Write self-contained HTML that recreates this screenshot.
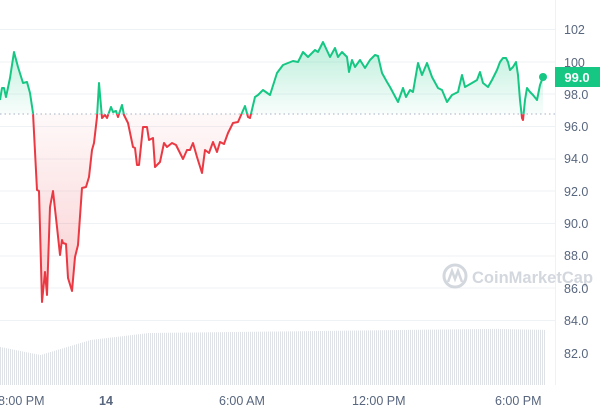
<!DOCTYPE html>
<html><head><meta charset="utf-8"><style>
body{margin:0;background:#fff;}
svg{display:block;font-family:"Liberation Sans",sans-serif;}
</style></head><body>
<svg width="600" height="413" viewBox="0 0 600 413">
<defs>
<linearGradient id="gG" gradientUnits="userSpaceOnUse" x1="0" y1="40" x2="0" y2="114"><stop offset="0" stop-color="#16c784" stop-opacity="0.3"/><stop offset="1" stop-color="#16c784" stop-opacity="0.03"/></linearGradient>
<linearGradient id="gR" gradientUnits="userSpaceOnUse" x1="0" y1="114" x2="0" y2="300"><stop offset="0" stop-color="#ea3943" stop-opacity="0.03"/><stop offset="1" stop-color="#ea3943" stop-opacity="0.25"/></linearGradient>
<clipPath id="above"><rect x="0" y="0" width="555" height="114"/></clipPath>
<clipPath id="below"><rect x="0" y="114" width="555" height="300"/></clipPath>
</defs>
<g stroke="#eff2f5" stroke-width="1">
<line x1="0" x2="555" y1="29.5" y2="29.5"/><line x1="0" x2="555" y1="62" y2="62"/><line x1="0" x2="555" y1="94" y2="94"/><line x1="0" x2="555" y1="126.5" y2="126.5"/><line x1="0" x2="555" y1="159" y2="159"/><line x1="0" x2="555" y1="191" y2="191"/><line x1="0" x2="555" y1="223.5" y2="223.5"/><line x1="0" x2="555" y1="256" y2="256"/><line x1="0" x2="555" y1="288" y2="288"/><line x1="0" x2="555" y1="320.5" y2="320.5"/>
<line x1="555.5" x2="555.5" y1="0" y2="385"/>
</g>
<g id="vol"></g>
<g opacity="0.8">
<circle cx="455" cy="276" r="11" fill="none" stroke="#c9ced6" stroke-width="3"/>
<path d="M448 282 L452 271 L455 279 L458 271 L462 282" fill="none" stroke="#c9ced6" stroke-width="2.5"/>
<text x="472" y="283" font-size="16.5" fill="#c9ced6" font-weight="bold">CoinMarketCap</text>
</g>
<g id="chart"></g>
<line x1="0" x2="555" y1="114" y2="114" stroke="#a6b0c3" stroke-width="1" stroke-dasharray="1.5,3"/>
<circle cx="543" cy="77" r="4" fill="#16c784"/>
<rect x="555" y="67" width="45" height="20" fill="#16c784"/>
<text x="577" y="82" font-size="13" fill="#fff" font-weight="bold" text-anchor="middle">99.0</text>
<g font-size="12.5" fill="#58667e">
<text x="564" y="34">102</text><text x="564" y="67">100</text><text x="564" y="99">98.0</text><text x="564" y="131">96.0</text><text x="564" y="163">94.0</text><text x="564" y="196">92.0</text><text x="564" y="228">90.0</text><text x="564" y="260">88.0</text><text x="564" y="293">86.0</text><text x="564" y="325">84.0</text><text x="564" y="358">82.0</text>
<text x="-2" y="405">8:00 PM</text><text x="99" y="405" font-weight="bold">14</text><text x="219" y="405">6:00 AM</text><text x="352" y="405">12:00 PM</text><text x="495" y="405">6:00 PM</text>
</g>
<script>
(function(){
var pts=[[0,100],[2,88],[4,88],[6,97],[10,78],[14,52],[18,67],[23,83],[27,82],[30,93],[33,113],[37,190],[39,191],[42,302],[45,272],[47,295],[50,207],[53,191],[57,227],[60,255],[62,240],[63,243],[66,244],[68,278],[72,291],[75,257],[78,245],[82,188],[86,187],[89,177],[92,150],[94,143],[97,117],[99,83],[102,118],[105,115],[107,118],[111,107],[113,112],[116,111],[118,117],[122,105],[124,115],[128,123],[133,147],[135,148],[137,165],[139,165],[143,127],[147,127],[149,140],[153,138],[155,167],[160,162],[164,143],[167,147],[172,143],[176,145],[183,159],[187,150],[190,150],[193,143],[197,157],[202,173],[205,150],[209,153],[213,142],[217,152],[220,142],[224,144],[228,133],[233,123],[238,122],[245,106],[248,117],[250,118],[255,97],[258,95],[263,90],[270,95],[277,73],[283,65],[293,61],[298,62],[303,52],[308,57],[315,50],[318,52],[323,42],[330,57],[335,48],[338,57],[342,52],[347,57],[349,72],[352,60],[355,67],[360,60],[365,68],[370,60],[375,55],[378,56],[382,73],[387,82],[390,87],[398,102],[403,88],[406,97],[410,90],[413,92],[418,63],[422,75],[427,63],[432,77],[438,88],[442,90],[447,102],[452,95],[458,92],[462,75],[465,87],[472,83],[477,80],[480,72],[483,83],[488,87],[492,80],[497,70],[500,62],[503,58],[506,58],[508,62],[510,70],[513,67],[516,62],[518,75],[520,100],[522,118],[523,120],[525,100],[527,88],[530,92],[533,95],[537,100],[540,85],[543,77]];
var d="M"+pts.map(function(p){return p[0]+" "+p[1];}).join(" L");
var area=d+" L543 114 L0 114 Z";
var ns="http://www.w3.org/2000/svg";var c=document.getElementById("chart");
function el(parent,t,a){var e=document.createElementNS(ns,t);for(var k in a)e.setAttribute(k,a[k]);parent.appendChild(e);}
el(c,"path",{d:area,fill:"url(#gG)","clip-path":"url(#above)"});
el(c,"path",{d:area,fill:"url(#gR)","clip-path":"url(#below)"});
el(c,"path",{d:d,fill:"none",stroke:"#16c784","stroke-width":2,"stroke-linejoin":"round","clip-path":"url(#above)"});
el(c,"path",{d:d,fill:"none",stroke:"#ea3943","stroke-width":2,"stroke-linejoin":"round","clip-path":"url(#below)"});
var v=document.getElementById("vol");
function vt(x){if(x<40)return 347+x/5;if(x<90)return 355-(x-40)*0.3;if(x<150)return 340-(x-90)*0.12;if(x<500)return 333-(x-150)*0.012;return 329+(x-500)*0.02;}
for(var x=0;x<545;x+=2){var t=vt(x);el(v,"rect",{x:x,y:t,width:1,height:385-t,fill:"#dfe2e7"});}
})();
</script>
</svg>
</body></html>
